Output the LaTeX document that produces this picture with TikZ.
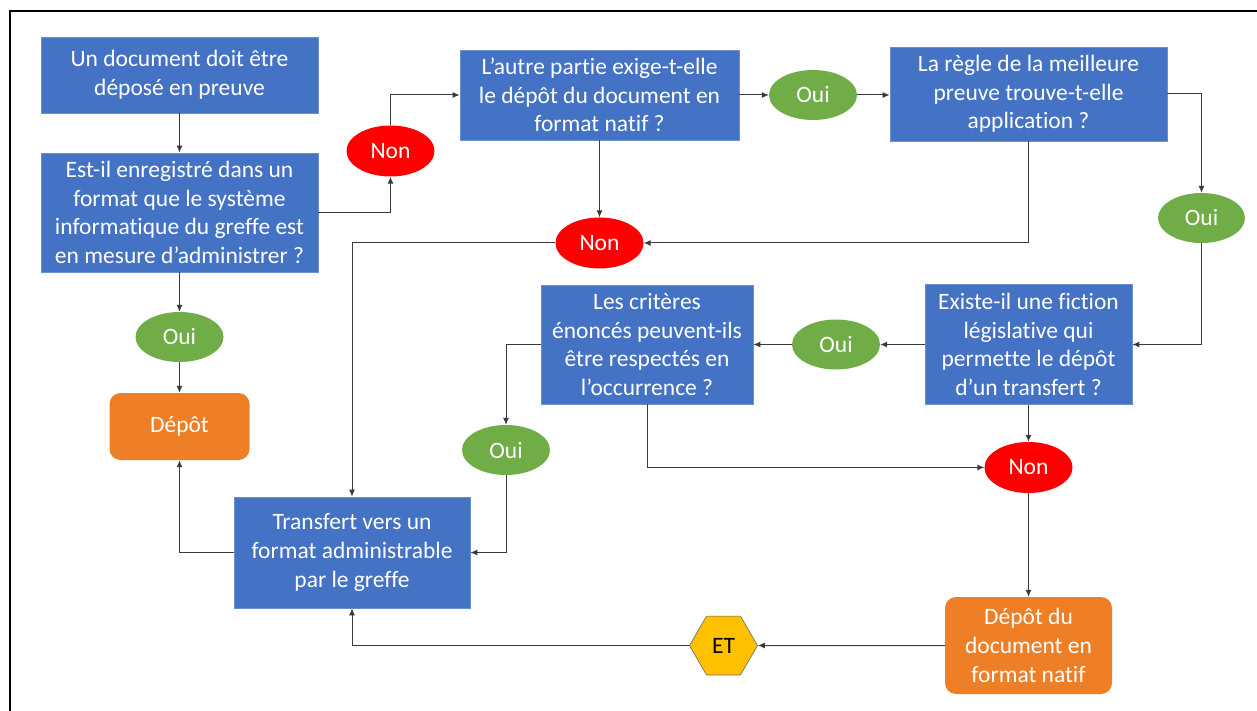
\documentclass[tikz,border=0pt]{standalone}
\usepackage{fontspec}
\setmainfont{Carlito}[Ligatures=NoCommon]
\usetikzlibrary{shapes.geometric,arrows.meta}
\definecolor{bblue}{HTML}{4472C4}
\definecolor{bedge}{HTML}{6A8FD3}
\definecolor{borange}{HTML}{EE7F26}
\definecolor{bgreen}{HTML}{70AD47}
\definecolor{bred}{HTML}{FF0000}
\definecolor{byellow}{HTML}{FFC000}
\definecolor{lineg}{HTML}{3A3A3A}
\begin{document}
\begin{tikzpicture}[x=1pt,y=-1pt,
  txt/.style={align=center,inner sep=0pt,font=\fontsize{23.5}{28.7}\selectfont},
  box/.style={txt,fill=bblue,draw=bedge,line width=0.8pt,text=white},
  endbox/.style={txt,fill=borange,draw=none,rounded corners=11pt,text=white},
  yes/.style={txt,ellipse,fill=bgreen,draw=none,text=white,minimum width=88pt,minimum height=50pt},
  no/.style={txt,ellipse,fill=bred,draw=none,text=white,minimum width=88pt,minimum height=51pt},
  andnode/.style={txt,regular polygon,regular polygon sides=6,fill=byellow,draw=black!60,line width=0.6pt,minimum size=68pt,text=black},
  arr/.style={draw=lineg,line width=1pt,-{Latex[length=7pt,width=6pt]}}]
\useasboundingbox (0,0) rectangle (1257,711);
\fill[white] (0,0) rectangle (1257,711);
\draw[line width=1.8pt,black] (10,730) -- (10,11) -- (1280,11);

\node[box,minimum width=277pt,minimum height=76pt] (A) at (179.5,75) {Un document doit être\\déposé en preuve};
\node[box,minimum width=277pt,minimum height=119pt] (B) at (179.5,212.5) {Est-il enregistré dans un\\format que le système\\informatique du greffe est\\en mesure d’administrer ?};
\node[yes] (Oui1) at (179.5,337) {Oui};
\node[endbox,minimum width=140pt,minimum height=67pt] (Dep) at (179.5,426.5) {Dépôt};
\node[no] (Non1) at (390.5,151) {Non};
\node[box,minimum width=279pt,minimum height=90pt] (C) at (599.5,95) {L’autre partie exige-t-elle\\le dépôt du document en\\format natif ?};
\node[yes] (Oui2) at (813,95) {Oui};
\node[box,minimum width=277pt,minimum height=94pt] (D) at (1028.5,94) {La règle de la meilleure\\preuve trouve-t-elle\\application ?};
\node[yes,minimum width=87pt] (Oui3) at (1201.5,218) {Oui};
\node[no] (Non2) at (599.5,243) {Non};
\node[box,minimum width=207pt,minimum height=120pt] (E) at (1028.5,344.5) {Existe-il une fiction\\législative qui\\permette le dépôt\\d’un transfert ?};
\node[yes] (Oui4) at (836,344.5) {Oui};
\node[box,minimum width=212pt,minimum height=119pt] (F) at (647,344.5) {Les critères\\énoncés peuvent-ils\\être respectés en\\l’occurrence ?};
\node[yes] (Oui5) at (506,450) {Oui};
\node[no] (Non3) at (1028.5,467.5) {Non};
\node[box,minimum width=236pt,minimum height=111pt] (G) at (352,552.5) {Transfert vers un\\format administrable\\par le greffe};
\node[endbox,minimum width=167pt,minimum height=97pt] (H) at (1028.5,645.5) {Dépôt du\\document en\\format natif};
\node[andnode] (ET) at (723.5,645.5) {ET};

\draw[arr] (A) -- (B);
\draw[arr] (B) -| (Non1);
\draw[arr] (Non1) |- (C);
\draw[arr] (C) -- (Oui2);
\draw[arr] (Oui2) -- (Oui2 -| D.west);
\draw[arr] (D) -| (Oui3);
\draw[arr] (Oui3) |- (E);
\draw[arr] (E) -- (Oui4);
\draw[arr] (Oui4) -- (F);
\draw[arr] (F) -| (Oui5);
\draw[arr] (Oui5) |- (G);
\draw[arr] (F.south) |- (Non3);
\draw[arr] (E) -- (Non3);
\draw[arr] (Non3) -- (H);
\draw[arr] (H) -- (ET);
\draw[arr] (ET) -| (G);
\draw[arr] (C) -- (Non2);
\draw[arr] (D.south) |- (Non2);
\draw[arr] (Non2) -| (G);
\draw[arr] (G) -| (Dep);
\draw[arr] (B) -- (Oui1);
\draw[arr] (Oui1) -- (Dep);
\end{tikzpicture}
\end{document}
